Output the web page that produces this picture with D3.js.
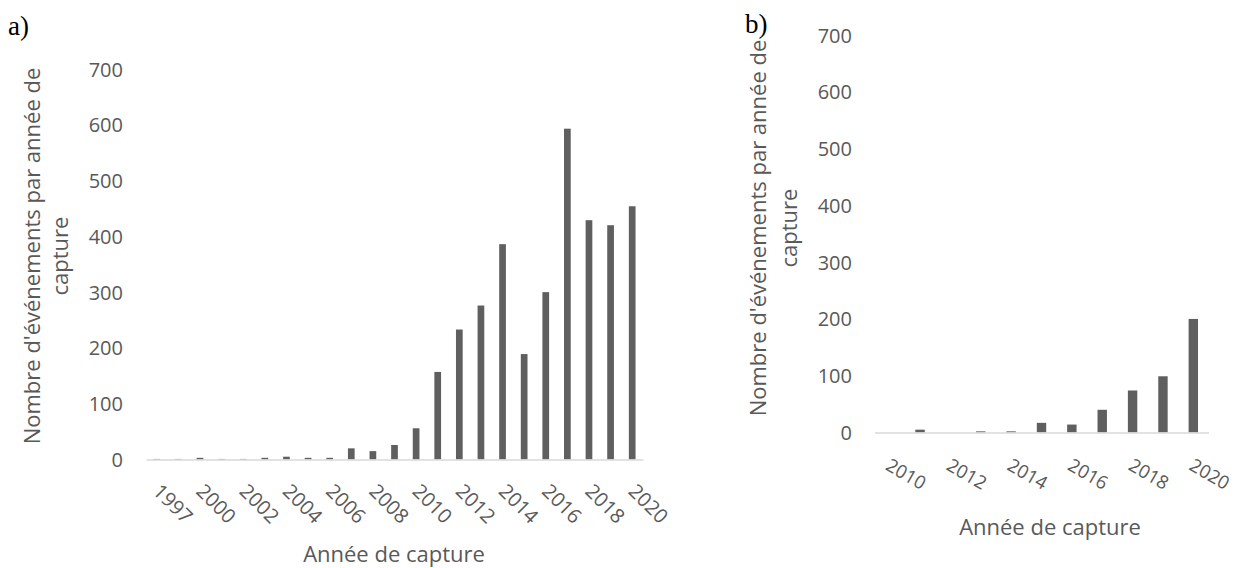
<!DOCTYPE html>
<html><head><meta charset="utf-8">
<script src="https://cdn.jsdelivr.net/npm/d3@7"></script>
<style>
html,body{margin:0;padding:0;background:#fff;}
svg{display:block;}
text{font-family:"Open Sans",sans-serif;fill:#595959;}
</style></head>
<body>
<svg id="c" width="1234" height="568"></svg>
<script>
// ---- Data ----
const yearsA = ["1997","1999","2000","2001","2002","2003","2004","2005","2006","2007","2008","2009","2010","2011","2012","2013","2014","2015","2016","2017","2018","2019","2020"];
const valuesA = [1,1,3,1,1,3,5,3,3,20,15,26,56,157,233,276,386,189,300,593,429,420,454];
const tickLabelsA = ["1997","2000","2002","2004","2006","2008","2010","2012","2014","2016","2018","2020"];

const yearsB = ["2010","2011","2012","2013","2014","2015","2016","2017","2018","2019","2020"];
const valuesB = [0,5,0,2,2,17,14,40,74,99,200];
const tickLabelsB = ["2010","2012","2014","2016","2018","2020"];

const yTicks = [0,100,200,300,400,500,600,700];
const yTitleLines = ["Nombre d'événements par année de","capture"];
const xTitle = "Année de capture";

const svg = d3.select("#c");
const barColor = "#5f5f5f";
const axisColor = "#d9d9d9";

function panel(cfg){
  const g = svg.append("g");
  const x = d3.scaleBand().domain(cfg.cats).range([cfg.x0, cfg.x1]).paddingInner(0.69).paddingOuter(0.345);
  const y = d3.scaleLinear().domain([0,700]).range([cfg.y0, cfg.y1]);
  // y axis labels
  const ya = d3.axisLeft(y).tickValues(yTicks).tickSize(0).tickPadding(0);
  const yg = g.append("g").attr("transform",`translate(${cfg.yLabelX},0)`).call(ya);
  yg.select(".domain").remove();
  yg.selectAll("text").attr("font-size",20).attr("font-family","Open Sans").attr("fill","#595959").attr("dy","0.35em");
  // bars
  g.selectAll("rect").data(cfg.vals).enter().append("rect")
    .attr("x",(d,i)=>x(cfg.cats[i]))
    .attr("width",x.bandwidth())
    .attr("y",d=>y(d))
    .attr("height",d=>y(0)-y(d))
    .attr("fill",barColor);
  // x axis
  const xa = d3.axisBottom(x).tickValues(cfg.ticks).tickSize(0).tickSizeOuter(0).tickFormat(d=>d);
  const xg = g.append("g").attr("transform",`translate(0,${y(0)})`).call(xa);
  xg.select(".domain").attr("stroke",axisColor).attr("stroke-width",1.5);
  xg.selectAll(".tick text")
    .attr("font-size",cfg.tickFs).attr("font-family","Open Sans").attr("fill","#595959")
    .attr("text-anchor","start")
    .attr("x",0).attr("y",0).attr("dy","0.35em")
    .attr("transform",`translate(${cfg.lblDx},${cfg.lblDy}) rotate(${cfg.rot})`);
  // y title
  const t = g.append("text").attr("font-size",22).attr("text-anchor","middle")
    .attr("transform",`translate(0,${cfg.titleYc}) rotate(-90)`);
  yTitleLines.forEach((s,i)=>{
    t.append("tspan").attr("x",0).attr("y",cfg.titleX[i]).text(s);
  });
  // x title
  g.append("text").attr("font-size",22).attr("text-anchor","middle")
    .attr("x",cfg.xTitleX).attr("y",cfg.xTitleY).text(xTitle);
  // panel label
  svg.append("text").attr("x",cfg.lab[0]).attr("y",cfg.lab[1])
    .attr("font-size",27)
    .style("font-family","'Liberation Serif', serif").style("fill","#000").text(cfg.label);
}

panel({cats:yearsA, vals:valuesA, ticks:tickLabelsA,
  x0:146, x1:643, y0:459.5, y1:69, yLabelX:123, rot:45, lblDx:0, lblDy:28, tickFs:20,
  titleYc:256, titleX:[40,68], xTitleX:394, xTitleY:562, label:"a)", lab:[8,35]});
panel({cats:yearsB, vals:valuesB, ticks:tickLabelsB,
  x0:874.5, x1:1208.5, y0:432.5, y1:35, yLabelX:852, rot:30, lblDx:-2, lblDy:31, tickFs:18.5,
  titleYc:228, titleX:[766,797], xTitleX:1050, xTitleY:535, label:"b)", lab:[745,33]});
</script>
</body></html>
